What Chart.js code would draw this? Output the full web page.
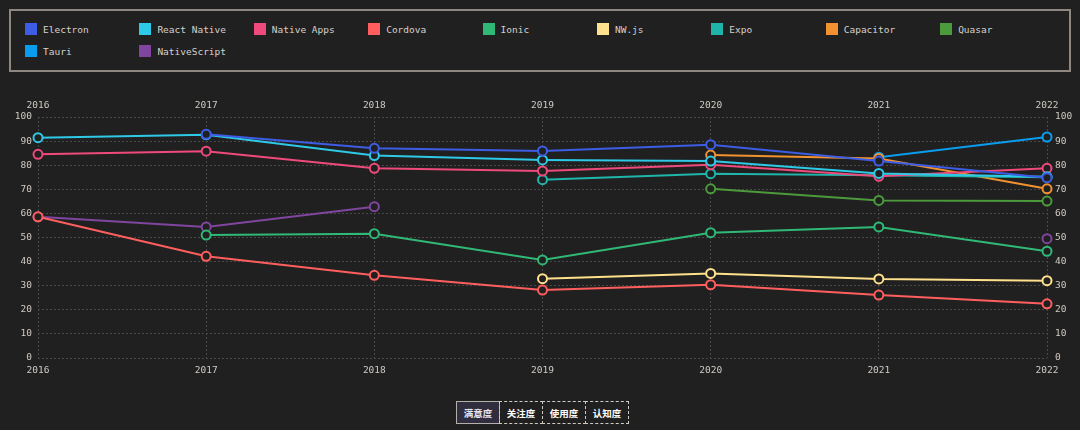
<!DOCTYPE html>
<html>
<head>
<meta charset="utf-8">
<script src="https://cdn.jsdelivr.net/npm/chart.js@4/dist/chart.umd.min.js"></script>
<style>
  html, body { margin: 0; padding: 0; background: #212021; }
  body { width: 1080px; height: 430px; position: relative; overflow: hidden; font-family: "DejaVu Sans Mono", monospace; }
  #legend {
    position: absolute; left: 9px; top: 9px; width: 1044px; height: 47px;
    border: 2px solid #8f8880;
    display: grid; grid-template-columns: repeat(9, 114.4px); grid-auto-rows: 22px;
    padding: 12px 0 0 14px; box-sizing: content-box;
  }
  .item { display: flex; align-items: center; height: 12px; color: #d6d2ca; font-size: 9.5px; white-space: nowrap; }
  .item span.box { width: 12px; height: 12px; margin-right: 6px; box-sizing: border-box; flex: none; }
  #wrap { position: absolute; left: 0; top: 91px; width: 1080px; height: 300px; }
  #tabs { position: absolute; left: 456px; top: 401px; display: flex; }
  #tabs div {
    width: 44px; height: 23px; box-sizing: border-box; border: 1px dashed #cfcac3;
    color: #fff; font: bold 9.5px "Noto Sans CJK SC", sans-serif;
    display: flex; align-items: center; justify-content: center; margin-left: -1px;
  }
  #tabs div.on { background: #302d3e; border: 1px solid #b4afa9; margin-left: 0; color: #e8e4f0; }
</style>
</head>
<body>
<div id="legend"></div>
<div id="wrap"><canvas id="chart"></canvas></div>
<div id="tabs">
  <div class="on">满意度</div><div>关注度</div><div>使用度</div><div>认知度</div>
</div>
<script>
const years = ['2016', '2017', '2018', '2019', '2020', '2021', '2022'];
const yTicks = [0, 10, 20, 30, 40, 50, 60, 70, 80, 90, 100];

// satisfaction % per year (null = not in survey)
const electron     = [null, 92.8, 87.0, 85.9, 88.5, 81.7, 74.8];
const reactNative  = [91.4, 92.6, 84.0, 82.2, 81.7, 76.6, 75.2];
const nativeApps   = [84.5, 85.8, 78.7, 77.6, 80.2, 75.4, 78.7];
const cordova      = [58.6, 42.2, 34.3, 28.2, 30.4, 26.1, 22.5];
const ionic        = [null, 51.0, 51.6, 40.7, 52.0, 54.4, 44.3];
const nwjs         = [null, null, null, 32.9, 35.1, 32.8, 32.1];
const expo         = [null, null, null, 74.0, 76.5, 75.8, 75.0];
const capacitor    = [null, null, null, null, 84.2, 82.8, 70.2];
const quasar       = [null, null, null, null, 70.2, 65.4, 65.1];
const tauri        = [null, null, null, null, null, 83.3, 91.7];
const nativeScript = [58.6, 54.4, 62.8, null, null, null, 49.5];

const names = ['Electron', 'React Native', 'Native Apps', 'Cordova', 'Ionic', 'NW.js', 'Expo', 'Capacitor', 'Quasar', 'Tauri', 'NativeScript'];
const series = [electron, reactNative, nativeApps, cordova, ionic, nwjs, expo, capacitor, quasar, tauri, nativeScript];
const colors = ['#3d5de4', '#2ec9e6', '#ee4a7c', '#ff5e5e', '#30b976', '#ffe08c', '#20b5aa', '#f2912f', '#4b9a3b', '#0a9cee', '#7f459f'];

const bg = '#212021';
const gridColor = '#4a4847';
const tickColor = '#cfcac2';
const tickFont = { family: 'DejaVu Sans Mono', size: 9.5 };

const datasets = series.map((data, i) => ({
  label: names[i],
  data: data,
  borderColor: colors[i],
  backgroundColor: colors[i],
  pointBackgroundColor: bg,
  pointBorderColor: colors[i],
  pointBorderWidth: 2,
  pointRadius: 4.5,
  borderWidth: 2,
  tension: 0,
  spanGaps: false
}));

function xAxis(pos, h) {
  return {
    type: 'category', labels: years, position: pos, offset: false,
    grid: { color: gridColor, drawTicks: false, tickLength: 0, display: pos === 'bottom' },
    border: { display: false, dash: [2, 2] },
    ticks: { color: tickColor, font: tickFont, padding: pos === 'bottom' ? 7 : 6, autoSkip: false, maxRotation: 0 },
    afterFit: s => { s.height = h; }
  };
}
function yAxis(pos, w) {
  return {
    position: pos, min: 0, max: 100,
    afterBuildTicks: s => { s.ticks = yTicks.map(v => ({ value: v })); },
    grid: { color: gridColor, drawTicks: false, tickLength: 0, display: pos === 'left' },
    border: { display: false, dash: [2, 2] },
    ticks: { color: tickColor, font: tickFont, padding: pos === 'left' ? 6 : 8 },
    afterFit: s => { s.width = w; }
  };
}

const chart = new Chart(document.getElementById('chart'), {
  type: 'line',
  data: { labels: years, datasets: datasets },
  options: {
    responsive: true,
    maintainAspectRatio: false,
    animation: false,
    layout: { padding: 0 },
    plugins: { legend: { display: false }, tooltip: { enabled: false } },
    scales: {
      x: xAxis('bottom', 33),
      x2: xAxis('top', 26),
      y: yAxis('left', 38),
      y2: yAxis('right', 33)
    }
  }
});

// html legend built from the chart datasets
const legend = document.getElementById('legend');
chart.data.datasets.forEach(ds => {
  const item = document.createElement('div');
  item.className = 'item';
  item.innerHTML = '<span class="box" style="background:' + ds.borderColor + '"></span>' + ds.label;
  legend.appendChild(item);
});
</script>
</body>
</html>
